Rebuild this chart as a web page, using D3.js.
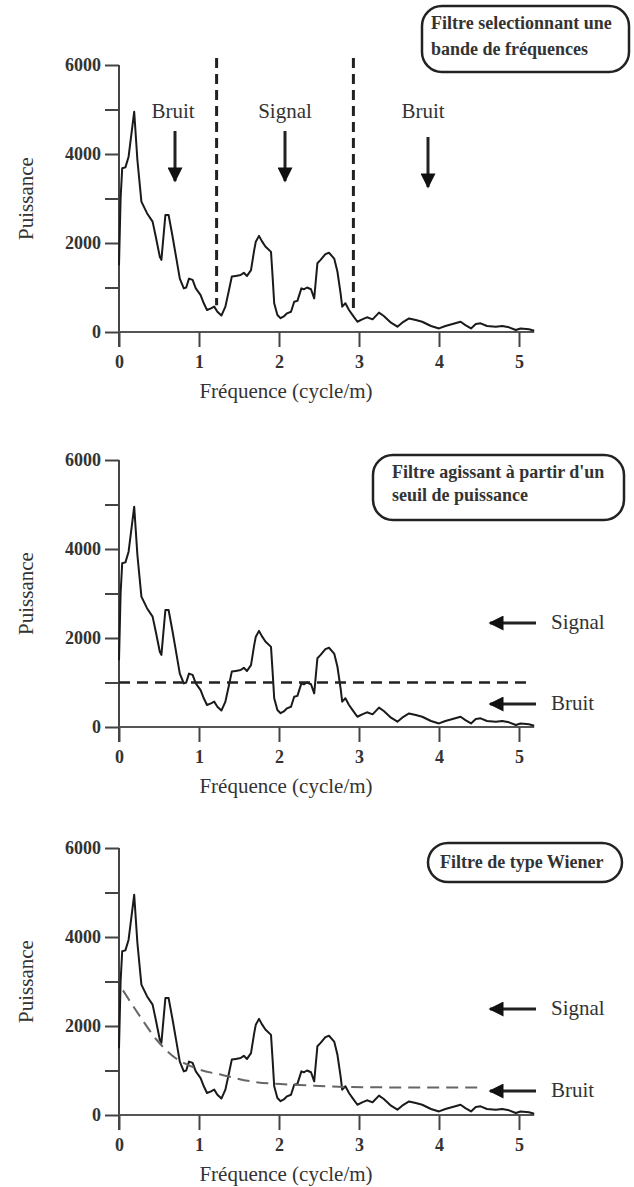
<!DOCTYPE html>
<html>
<head>
<meta charset="utf-8">
<script src="https://cdn.jsdelivr.net/npm/d3@7"></script>
<style>
  html, body { margin: 0; padding: 0; background: #fff; }
  svg text { font-family: "Liberation Serif", "Times New Roman", serif; fill: #333; }
</style>
</head>
<body>
<svg id="chart" width="634" height="1187"></svg>
<script>
// Power spectrum (frequency in cycle/m, power)
const freq = [0, 0.02, 0.04, 0.08, 0.12, 0.19, 0.23, 0.28, 0.35, 0.42, 0.46, 0.51, 0.53, 0.58, 0.62, 0.67, 0.72, 0.76, 0.81, 0.84, 0.875, 0.92, 0.96, 1.02, 1.06, 1.10, 1.15, 1.19, 1.23, 1.28, 1.33, 1.375, 1.41, 1.46, 1.52, 1.56, 1.60, 1.65, 1.69, 1.71, 1.75, 1.79, 1.83, 1.90, 1.92, 1.94, 1.98, 2.02, 2.06, 2.10, 2.15, 2.19, 2.23, 2.28, 2.31, 2.35, 2.40, 2.44, 2.48, 2.52, 2.58, 2.625, 2.69, 2.73, 2.77, 2.79, 2.83, 2.875, 2.92, 2.98, 3.04, 3.10, 3.17, 3.25, 3.31, 3.40, 3.48, 3.54, 3.625, 3.71, 3.79, 3.90, 4.0, 4.08, 4.17, 4.27, 4.33, 4.40, 4.46, 4.52, 4.60, 4.71, 4.79, 4.875, 4.96, 5.02, 5.125, 5.19];
const power = [1500, 3000, 3680, 3700, 3940, 4950, 3865, 2930, 2670, 2480, 2140, 1690, 1620, 2630, 2630, 2140, 1620, 1200, 980, 1000, 1200, 1170, 980, 830, 645, 495, 530, 570, 455, 370, 570, 945, 1245, 1260, 1280, 1330, 1260, 1390, 1840, 2030, 2160, 2030, 1920, 1800, 1245, 645, 380, 310, 350, 420, 455, 680, 700, 980, 960, 1000, 960, 755, 1545, 1620, 1750, 1780, 1650, 1360, 870, 570, 645, 495, 380, 230, 285, 330, 285, 435, 360, 210, 120, 210, 305, 270, 230, 135, 80, 135, 180, 230, 155, 80, 180, 195, 135, 120, 135, 105, 45, 80, 60, 30];

// Axis ticks
const xTicks = [0, 1, 2, 3, 4, 5];
const yTicks = [0, 1000, 2000, 3000, 4000, 5000, 6000];
const yLabelled = [0, 2000, 4000, 6000];

// Band-pass limits (panel 1) and power threshold (panel 2)
const bandLimits = [1.22, 2.93];
const threshold = 1000;

// Wiener noise model (panel 3)
const noiseFreq = [0.05, 0.25, 0.475, 0.66, 0.96, 1.29, 1.71, 2.33, 2.83, 3.5, 4.55];
const noisePower = [2800, 2250, 1680, 1345, 1050, 900, 740, 670, 630, 620, 620];

// Texts
const filterTitles = [
  ["Filtre selectionnant une", "bande de fréquences"],
  ["Filtre agissant à partir d'un", "seuil de puissance"],
  ["Filtre de type Wiener"]
];
const xTitle = "Fréquence (cycle/m)";
const yTitle = "Puissance";

const svg = d3.select("#chart");
const panelTops = [65, 460, 848];
const plotH = 267;
const x0 = 119;
const x = d3.scaleLinear().domain([0, 5.2]).range([x0, x0 + 416]);

const spectrum = freq.map((f, i) => ({f, p: power[i]}));

// arrow head markers
const defs = svg.append("defs");
defs.append("marker")
  .attr("id", "head")
  .attr("viewBox", "0 0 10 10")
  .attr("refX", 9).attr("refY", 5)
  .attr("markerWidth", 5.5).attr("markerHeight", 5)
  .attr("markerUnits", "strokeWidth")
  .attr("orient", "auto")
  .append("path").attr("d", "M0,0 L10,5 L0,10 Z").attr("fill", "#111");

function arrow(g, xa, ya, xb, yb) {
  g.append("line")
    .attr("x1", xa).attr("y1", ya).attr("x2", xb).attr("y2", yb)
    .attr("stroke", "#222").attr("stroke-width", 3)
    .attr("marker-end", "url(#head)");
}

function titleBox(g, lines, bx, by, bw, bh, tx, baselines) {
  g.append("rect")
    .attr("x", bx).attr("y", by).attr("width", bw).attr("height", bh)
    .attr("rx", 20).attr("ry", 20)
    .attr("fill", "#fff").attr("stroke", "#222").attr("stroke-width", 2.5);
  lines.forEach((t, i) => {
    g.append("text").attr("x", tx).attr("y", baselines[i])
      .attr("font-size", 18).attr("font-weight", "bold").attr("fill", "#333")
      .text(t);
  });
}

panelTops.forEach((top, k) => {
  const y = d3.scaleLinear().domain([0, 6000]).range([top + plotH, top]);
  const g = svg.append("g");
  const y0 = y(0);

  // y axis
  const ya = g.append("g").attr("transform", `translate(${x0},0)`)
    .call(d3.axisLeft(y).tickValues(yTicks).tickSize(14).tickPadding(4)
      .tickFormat(d => yLabelled.includes(d) ? d : ""));
  ya.select(".domain").attr("stroke", "#444").attr("stroke-width", 2)
    .attr("d", `M0,${y(6000)}V${y0 + 15}`);
  ya.selectAll(".tick line").attr("stroke", "#444").attr("stroke-width", 2);
  ya.selectAll(".tick text").attr("font-size", 18).attr("font-weight", "bold")
    .attr("font-family", "Liberation Serif, serif").attr("fill", "#444");

  // x axis
  const xa = g.append("g").attr("transform", `translate(0,${y0})`)
    .call(d3.axisBottom(x).tickValues(xTicks).tickSize(15).tickPadding(8).tickFormat(d3.format("d")));
  xa.select(".domain").attr("stroke", "#555").attr("stroke-width", 2)
    .attr("d", `M${x0},0H${x(5.19)}`);
  xa.selectAll(".tick line").attr("stroke", "#444").attr("stroke-width", 2);
  xa.selectAll(".tick text").attr("font-size", 18).attr("font-weight", "bold")
    .attr("font-family", "Liberation Serif, serif").attr("fill", "#444");

  // axis titles
  g.append("text").attr("x", 286).attr("y", y0 + 66).attr("text-anchor", "middle")
    .attr("font-size", 21).text(xTitle);
  g.append("text")
    .attr("transform", `translate(33,${(y(6000) + y0) / 2}) rotate(-90)`)
    .attr("text-anchor", "middle").attr("font-size", 21).text(yTitle);

  // spectrum curve
  g.append("path").datum(spectrum)
    .attr("fill", "none").attr("stroke", "#1a1a1a").attr("stroke-width", 2)
    .attr("stroke-linejoin", "round")
    .attr("d", d3.line().x(d => x(d.f)).y(d => y(d.p)));

  if (k === 0) {
    bandLimits.forEach(b => {
      g.append("line").attr("x1", x(b)).attr("x2", x(b))
        .attr("y1", top - 7).attr("y2", y(b < 2 ? 600 : 500))
        .attr("stroke", "#222").attr("stroke-width", 3).attr("stroke-dasharray", "10,6");
    });
    const notes = [
      {t: "Bruit", tx: 173, ax: 175, a1: 131, a2: 181},
      {t: "Signal", tx: 285, ax: 285, a1: 131, a2: 181},
      {t: "Bruit", tx: 423, ax: 428, a1: 137, a2: 187}
    ];
    notes.forEach(n => {
      g.append("text").attr("x", n.tx).attr("y", 118).attr("text-anchor", "middle")
        .attr("font-size", 21).text(n.t);
      arrow(g, n.ax, n.a1, n.ax, n.a2);
    });
    titleBox(g, filterTitles[0], 422, 6, 207, 66, 431, [29, 55]);
  }

  if (k === 1) {
    g.append("line").attr("x1", x0).attr("x2", x(5.17))
      .attr("y1", y(threshold)).attr("y2", y(threshold))
      .attr("stroke", "#222").attr("stroke-width", 2.5).attr("stroke-dasharray", "11,7");
    titleBox(g, filterTitles[1], 373, 455, 251, 65, 392, [478, 501]);
  }

  if (k === 2) {
    const noise = noiseFreq.map((f, i) => ({f, p: noisePower[i]}));
    g.append("path").datum(noise)
      .attr("fill", "none").attr("stroke", "#666").attr("stroke-width", 2)
      .attr("stroke-dasharray", "12,7")
      .attr("d", d3.line().curve(d3.curveMonotoneX).x(d => x(d.f)).y(d => y(d.p)));
    titleBox(g, filterTitles[2], 428, 843, 194, 39, 440, [868]);
  }

  if (k >= 1) {
    const sy = k === 1 ? [623, 704] : [1009, 1091];
    ["Signal", "Bruit"].forEach((t, i) => {
      arrow(g, 536, sy[i], 490, sy[i]);
      g.append("text").attr("x", 551).attr("y", sy[i] + 6).attr("font-size", 21).text(t);
    });
  }
});
</script>
</body>
</html>
